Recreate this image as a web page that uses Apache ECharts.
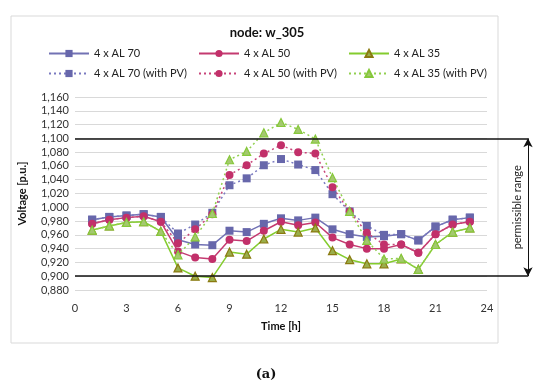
<!DOCTYPE html>
<html><head><meta charset="utf-8">
<script src="https://cdn.jsdelivr.net/npm/echarts@6/dist/echarts.min.js"></script>
<style>html,body{margin:0;padding:0;background:#fff}#c{width:550px;height:391px}</style>
</head><body><div id="c"></div>
<script>
const hours = [1,2,3,4,5,6,7,8,9,10,11,12,13,14,15,16,17,18,19,20,21,22,23];
const al70   = [0.982,0.986,0.988,0.990,0.986,0.953,0.946,0.945,0.966,0.964,0.976,0.984,0.981,0.985,0.968,0.961,0.957,0.958,0.961,0.952,0.972,0.982,0.985];
const al50   = [0.976,0.982,0.985,0.987,0.979,0.936,0.927,0.925,0.953,0.951,0.966,0.979,0.974,0.978,0.956,0.946,0.940,0.940,0.946,0.934,0.961,0.975,0.979];
const al35   = [0.967,0.973,0.978,0.979,0.965,0.912,0.900,0.898,0.935,0.932,0.954,0.968,0.964,0.970,0.937,0.924,0.918,0.918,0.925,0.910,0.946,0.964,0.970];
const al70pv = [0.982,0.986,0.988,0.990,0.986,0.962,0.975,0.992,1.032,1.042,1.061,1.070,1.062,1.054,1.019,0.994,0.973,0.960,0.961,0.952,0.972,0.982,0.985];
const al50pv = [0.976,0.982,0.985,0.987,0.979,0.948,0.968,0.990,1.047,1.061,1.078,1.090,1.080,1.078,1.029,0.994,0.963,0.946,0.946,0.934,0.961,0.975,0.979];
const al35pv = [0.967,0.973,0.978,0.979,0.965,0.931,0.957,0.991,1.069,1.081,1.108,1.123,1.113,1.099,1.043,0.994,0.952,0.925,0.926,0.910,0.946,0.964,0.970];
const xTicks = [0,3,6,9,12,15,18,21,24];
const limits = [0.9, 1.1];
const names = ['4 x AL 70','4 x AL 50','4 x AL 35','4 x AL 70 (with PV)','4 x AL 50 (with PV)','4 x AL 35 (with PV)'];

const FONT = 'Lato, "Open Sans", sans-serif';
const pts = arr => hours.map((h,i)=>[h, arr[i]]);

function mk(name, data, lineColor, symbol, fill, border, dotted) {
  return {
    name, type:'line', data: pts(data), xAxisIndex:0, yAxisIndex:0,
    symbol, symbolSize: symbol==='triangle'?8:8,
    showAllSymbol:true,
    lineStyle:{color:lineColor, width: dotted?1.5:1.5, type: dotted?[2,3]:'solid'},
    itemStyle:{color:fill, borderColor:border, borderWidth: symbol==='triangle'?1.2:0},
    emphasis:{disabled:true}, animation:false, z: dotted?3:2
  };
}

const chart = echarts.init(document.getElementById('c'), null, {renderer:'canvas'});
const legendCommon = {orient:'vertical', itemWidth:40, itemHeight:9, itemGap:9,
  textStyle:{fontFamily:FONT, fontSize:11, color:'#222'}, selectedMode:false, padding:0};

chart.setOption({
  animation:false,
  textStyle:{fontFamily:FONT},
  title:[
    {text:'node: w_305', left:262, top:21, textAlign:'center',
     textStyle:{fontFamily:FONT, fontSize:13, fontWeight:'bold', color:'#111'}},
    {text:'{n|(}{b|a}{n|)}', left:261, top:363, textAlign:'center',
     textStyle:{rich:{n:{fontFamily:'"DejaVu Serif", serif', fontSize:13, color:'#111'},
                      b:{fontFamily:'"DejaVu Serif", serif', fontSize:13, fontWeight:'bold', color:'#111'}}}}
  ],
  legend:[
    Object.assign({left:48, top:48, data:[names[0],names[3]]}, legendCommon),
    Object.assign({left:198, top:48, data:[names[1],names[4]]}, legendCommon),
    Object.assign({left:348, top:48, data:[names[2],names[5]]}, legendCommon)
  ],
  graphic:[{type:'rect', shape:{x:11, y:16, width:487, height:327}, style:{fill:null, stroke:'#d9d9d9', lineWidth:1}, silent:true, z:-10}],
  grid:[
    {left:75, right:63, top:97, bottom:101},
    {left:75, right:22, top:97, bottom:101}
  ],
  xAxis:[
    {type:'value', min:0, max:24, interval:3, gridIndex:0,
     axisLine:{show:false}, axisTick:{show:false}, splitLine:{show:false},
     axisLabel:{fontFamily:FONT, fontSize:11, color:'#333', margin:13,
       customValues: xTicks},
     name:'Time [h]', nameLocation:'middle', nameGap:31,
     nameTextStyle:{fontFamily:FONT, fontSize:11, fontWeight:'bold', color:'#111'}},
    {type:'value', min:0, max:1, gridIndex:1, show:false}
  ],
  yAxis:[
    {type:'value', min:0.88, max:1.16, interval:0.02, gridIndex:0,
     axisLine:{show:false}, axisTick:{show:false},
     splitLine:{lineStyle:{color:'#d9d9d9', width:1}},
     axisLabel:{fontFamily:FONT, fontSize:11, color:'#333', margin:6,
       formatter: v => v.toFixed(3).replace('.', ',')},
     name:'Voltage [p.u.]', nameLocation:'middle', nameGap:47, nameRotate:90,
     nameTextStyle:{fontFamily:FONT, fontSize:11, fontWeight:'bold', color:'#111'}},
    {type:'value', min:0.88, max:1.16, gridIndex:1, show:false}
  ],
  series:[
    mk(names[0], al70, '#7272b4', 'rect', '#6767ab', '#6767ab', false),
    mk(names[1], al50, '#c43a70', 'circle', '#c2306a', '#c2306a', false),
    mk(names[2], al35, '#84cc2e', 'triangle', '#9aae4a', '#8a7a10', false),
    mk(names[3], al70pv, '#7a7ac0', 'rect', '#6767ab', '#6767ab', true),
    mk(names[4], al50pv, '#c8457a', 'circle', '#c2306a', '#c2306a', true),
    mk(names[5], al35pv, '#92d050', 'triangle', '#a4c870', '#86c83a', true),
    {
      type:'line', xAxisIndex:1, yAxisIndex:1, data:[], silent:true, animation:false,
      markLine:{
        silent:true, animation:false, symbol:['none','none'],
        lineStyle:{color:'#111', width:1.5, type:'solid'},
        label:{show:false},
        emphasis:{disabled:true},
        data:[
          {yAxis: limits[1]},
          {yAxis: limits[0]},
          [
            {coord:[1, limits[0]], symbol:'arrow', symbolSize:[7,9],
             lineStyle:{width:1, color:'#111'},
             label:{show:true, position:'middle', formatter:'permissible range', distance:5,
                    fontFamily:FONT, fontSize:11, color:'#222'}},
            {coord:[1, limits[1]], symbol:'arrow', symbolSize:[7,9]}
          ]
        ]
      }
    }
  ]
});
</script></body></html>
